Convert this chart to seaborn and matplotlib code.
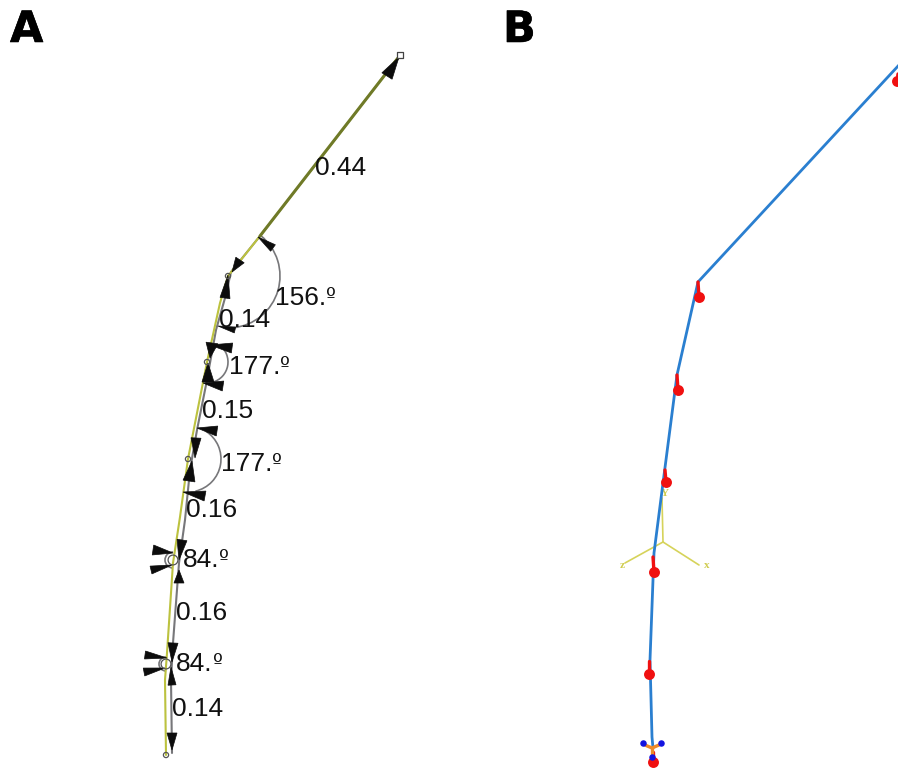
import numpy as np
import pandas as pd
import matplotlib
matplotlib.use("Agg")
import matplotlib.pyplot as plt
import matplotlib.patheffects as pe
from matplotlib.patches import Arc
import seaborn as sns

sns.set_theme(style="white")
plt.rcParams["font.family"] = ["Liberation Sans", "DejaVu Sans"]

# Panel A: reference curve and segment chain
green_x = [400, 330, 260, 228, 220, 207, 188, 180, 173, 167, 165, 166]
green_y = [55, 146, 236, 276, 303, 362, 459, 517, 563, 653, 680, 755]
grey_x = [260, 231, 225, 216, 206, 197, 190, 185, 179, 173, 171, 172]
grey_y = [236, 272, 298, 330, 385, 430, 470, 520, 563, 643, 680, 753]
top_x = [398, 260]
top_y = [58, 236]

# Angle arcs: centre, radius, start and end angle
arc_cx = [228, 207, 188, 173, 166]
arc_cy = [276, 362, 459, 560, 664]
arc_r = [52, 21, 33, 8, 7]
arc_t0 = [-51, -53, -57, 90, 90]
arc_t1 = [84, 74, 77, 270, 270]

# Arrowheads: tip and base centre, base half-width
tip_x = [399, 258, 232, 228, 218, 210, 210, 203, 208, 197, 195, 192, 183,
         179, 179, 173, 172, 172, 171, 167, 165, 172]
tip_y = [57, 237, 272, 275, 326, 345, 358, 383, 363, 428, 458, 461, 492,
         560, 570, 553, 565, 662, 667, 658, 668, 750]
base_x = [387, 273, 240, 225, 235, 232, 212, 223, 208, 217, 196, 189, 205,
          182, 179, 153, 151, 173, 172, 145, 144, 172]
base_y = [76, 248, 260, 298, 330, 348, 343, 386, 382, 431, 438, 481, 496,
          540, 583, 550, 570, 643, 685, 655, 672, 733]
half_w = [6, 4, 5, 5, 3, 5, 6, 5, 6, 5, 5, 6, 5, 5, 5, 5, 4, 5, 4, 4, 4, 5]

node_x = [228, 207, 188, 173, 166, 166]
node_y = [276, 362, 459, 560, 664, 755]
node_s = [18, 18, 18, 50, 50, 18]

label_text = ["0.44", "156.", "0.14", "177.", "0.15", "177.", "0.16",
              "84.", "0.16", "84.", "0.14"]
label_x = [315, 275, 219, 229, 202, 221, 186, 183, 176, 176, 172]
label_y = [168, 298, 320, 367, 411, 464, 510, 560, 613, 664, 709]
degree_after = [False, True, False, True, False, True, False, True, False, True, False]

# Panel B: blue chain, red pins, yellow triad
blue_x = [899, 698, 677, 663, 654, 650, 652, 653]
blue_y = [65, 282, 375, 483, 553, 660, 737, 748]
pin_x0 = [898, 698, 677, 665, 653, 649, 653]
pin_y0 = [74, 282, 375, 470, 557, 661, 752]
pin_x1 = [897, 699, 678, 666, 654, 649, 653]
pin_y1 = [81, 297, 390, 482, 572, 674, 762]
triad_x = [[663, 662], [663, 625], [663, 699]]
triad_y = [[542, 498], [542, 563], [542, 565]]
triad_names = ["Y", "z", "x"]
triad_lx = [665, 622, 707]
triad_ly = [493, 565, 565]
orange_x = [[645, 652, 659], [652, 652]]
orange_y = [[745, 748, 745], [748, 757]]
bc_x = [643, 661, 652]
bc_y = [743, 743, 757]

panel_text = ["A", "B"]
panel_x = [10, 503]
panel_y = [42, 42]

fig = plt.figure(figsize=(8.98, 7.70), dpi=100, facecolor="white")
ax = fig.add_axes([0, 0, 1, 1])
ax.set_xlim(0, 898)
ax.set_ylim(770, 0)
ax.axis("off")


def line(xs, ys, color, lw, z=2):
    frame = pd.DataFrame({"x": xs, "y": ys, "o": range(len(xs))})
    sns.lineplot(data=frame, x="x", y="y", sort=False, estimator=None, color=color,
                 linewidth=lw, ax=ax, zorder=z, legend=False)


line(grey_x, grey_y, "#77777a", 1.5, 2)
line(green_x, green_y, "#bcc23f", 1.5, 3)
line(top_x, top_y, "#6f7a28", 2.2, 3.5)
for cx, cy, r, t0, t1 in zip(arc_cx, arc_cy, arc_r, arc_t0, arc_t1):
    ax.add_patch(Arc((cx, cy), 2 * r, 2 * r, theta1=t0, theta2=t1, color="#77777a",
                     lw=1.2, zorder=2))

for tx, ty, bx, by, w in zip(tip_x, tip_y, base_x, base_y, half_w):
    d = np.array([bx - tx, by - ty], float)
    n = np.array([-d[1], d[0]]) / np.hypot(*d) * w
    ax.fill([tx, bx + n[0], bx - n[0]], [ty, by + n[1], by - n[1]],
            color="#0c0c0c", lw=0.5, zorder=4)

sns.scatterplot(x=node_x, y=node_y, size=node_s, sizes=(14, 50), legend=False, ax=ax,
                facecolor="none", edgecolor="#555555", linewidth=0.9, zorder=5)
sns.scatterplot(x=[400], y=[55], marker="s", s=20, facecolor="white", edgecolor="#444444",
                linewidth=0.9, ax=ax, zorder=5)

for t, x, y, deg in zip(label_text, label_x, label_y, degree_after):
    txt = ax.text(x, y, t, fontsize=19, color="#111111", ha="left", va="center", zorder=6)
    if deg:
        ax.annotate("º", xy=(1, 0.12), xycoords=txt, fontsize=15, family="DejaVu Sans",
                    color="#111111", ha="left", va="bottom", zorder=6)

for xs, ys in zip(triad_x, triad_y):
    line(xs, ys, "#d6d35a", 1.2, 2)
for t, x, y in zip(triad_names, triad_lx, triad_ly):
    ax.text(x, y, t, fontsize=8, fontweight="bold", color="#cfcc4e", family="Liberation Serif",
            ha="center", va="center", zorder=3)

line(blue_x, blue_y, "#2a7fd0", 2.0, 3)
for x0, y0, x1, y1 in zip(pin_x0, pin_y0, pin_x1, pin_y1):
    line([x0, x1], [y0, y1], "#f01010", 2.4, 4)
sns.scatterplot(x=pin_x1, y=pin_y1, s=62, color="#f01010", linewidth=0, ax=ax, zorder=4)
for xs, ys in zip(orange_x, orange_y):
    line(xs, ys, "#ee8a28", 2.4, 5)
sns.scatterplot(x=bc_x, y=bc_y, s=22, color="#1414e0", linewidth=0, ax=ax, zorder=5)

for t, x, y in zip(panel_text, panel_x, panel_y):
    ax.text(x, y, t, fontsize=31, fontweight="bold", family="DejaVu Sans", color="black",
            ha="left", va="baseline", zorder=7,
            path_effects=[pe.withStroke(linewidth=0.4, foreground="black")])

ax.set_xlim(0, 898)
ax.set_ylim(770, 0)
ax.set_xlabel("")
ax.set_ylabel("")
fig.savefig("out.png", dpi=100, facecolor="white")
